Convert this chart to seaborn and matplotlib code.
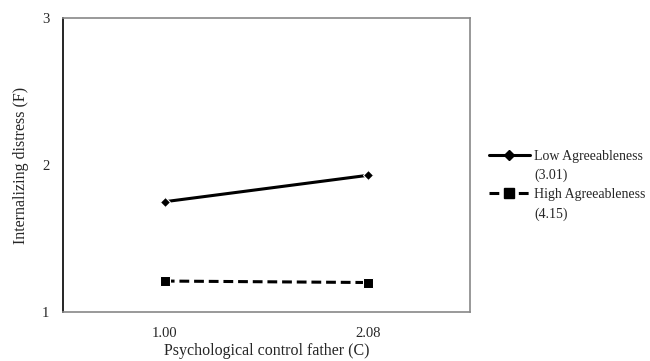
import matplotlib
matplotlib.use("Agg")
import matplotlib.pyplot as plt
from matplotlib.lines import Line2D
import pandas as pd
import seaborn as sns

# values
control_levels = ["1.00", "2.08"]
low_agree = [1.75, 1.93]
high_agree = [1.21, 1.20]
y_ticks = [1, 2, 3]

df = pd.DataFrame({
    "control": control_levels * 2,
    "distress": low_agree + high_agree,
    "group": ["Low Agreeableness"] * 2 + ["High Agreeableness"] * 2,
})

sns.set_style("white")
plt.rcParams["font.family"] = ["Liberation Serif", "DejaVu Serif"]

fig = plt.figure(figsize=(6.5, 3.61), dpi=100)
ax = fig.add_axes([0.097, 0.136, 0.626, 0.814])

dash = (0, (3.2, 1.6))
sns.lineplot(data=df[df["group"] == "Low Agreeableness"], x="control", y="distress",
             color="black", lw=2.2, marker="D", markersize=5.5, ax=ax)
sns.lineplot(data=df[df["group"] == "High Agreeableness"], x="control", y="distress",
             color="black", lw=2.2, marker="s", markersize=6.5, dashes=False, ax=ax,
             linestyle=dash)

ax.set_xlim(-0.5, 1.5)
ax.set_ylim(1, 3)
ax.set_yticks(y_ticks)
ax.set_yticklabels([str(t) for t in y_ticks], fontsize=10.5)

# category boundaries as ticks, labels in the middle
ax.set_xticks([-0.5, 0.5, 1.5])
ax.set_xticklabels([])
ax.set_xticks([0, 1], minor=True)
ax.set_xticklabels(control_levels, minor=True, fontsize=10.5)
ax.tick_params(axis="x", which="major", direction="out", length=4, color="#888888", width=1)
ax.tick_params(axis="x", which="minor", length=0, pad=11)
ax.tick_params(axis="y", direction="out", length=4, color="#888888", width=1, pad=6)

for side in ["top", "right", "bottom"]:
    ax.spines[side].set_color("#888888")
    ax.spines[side].set_linewidth(1.2)
ax.spines["left"].set_color("black")
ax.spines["left"].set_linewidth(1.2)

ax.set_xlabel("Psychological control father (C)", fontsize=11.5, labelpad=2)
ax.set_ylabel("Internalizing distress (F)", fontsize=11.5, labelpad=9)

if ax.get_legend() is not None:
    ax.get_legend().remove()

blank = Line2D([], [], linestyle="none")
h_low = Line2D([], [], color="black", lw=2.2, marker="D", markersize=5.5)
h_high = Line2D([], [], color="black", lw=2.2, marker="s", markersize=6.5, linestyle=dash)
fig.legend([h_low, blank, h_high, blank],
           ["Low Agreeableness", "(3.01)", "High Agreeableness", "(4.15)"],
           loc="upper left", bbox_to_anchor=(0.752, 0.584), frameon=False,
           fontsize=10, handlelength=2.95, handletextpad=0.3, labelspacing=0.42,
           borderaxespad=0, borderpad=0)

fig.savefig("out.png", dpi=100)
